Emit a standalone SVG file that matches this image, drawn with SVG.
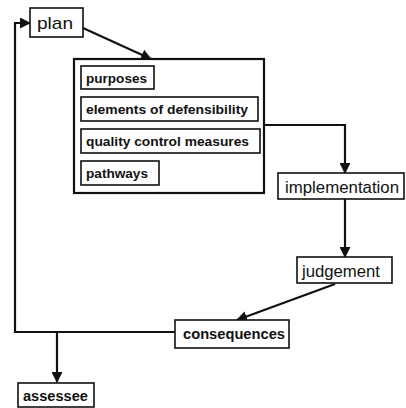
<svg xmlns="http://www.w3.org/2000/svg" width="406" height="408" viewBox="0 0 406 408">
<defs>
<marker id="ah" markerUnits="userSpaceOnUse" markerWidth="11" markerHeight="11" viewBox="0 0 11 11" refX="10" refY="5.5" orient="auto">
<path d="M0,0 L11,5.5 L0,11 Z" fill="#111"/>
</marker>
</defs>
<style>
.box{fill:#fff;stroke:#111;stroke-width:1.6}
.big{fill:#fff;stroke:#111;stroke-width:2.2}
.c{fill:none;stroke:#111;stroke-width:2.2}
text{font-family:"Liberation Sans",Arial,sans-serif;fill:#111}
.b{font-weight:bold}
</style>
<rect width="406" height="408" fill="#fff"/>
<g id="connectors">
<path class="c" d="M83,28 L151,59" marker-end="url(#ah)"/>
<path class="c" d="M264,125 H345 V173" marker-end="url(#ah)"/>
<path class="c" d="M345,199 V257" marker-end="url(#ah)"/>
<path class="c" d="M335,284 L237,320" marker-end="url(#ah)"/>
<path class="c" d="M175,332 H15 V23 H30" marker-end="url(#ah)"/>
<path class="c" d="M57,332 V382" marker-end="url(#ah)"/>
</g>
<g id="plan">
<rect class="box" x="30" y="8" width="53" height="29"/>
<text x="37" y="29" font-size="17" textLength="36" lengthAdjust="spacingAndGlyphs">plan</text>
</g>
<g id="plan-contents">
<rect class="big" x="74" y="59" width="190" height="134"/>
<g id="purposes">
<rect class="box" x="81" y="66" width="73" height="23"/>
<text class="b" x="86" y="83" font-size="13" textLength="61" lengthAdjust="spacingAndGlyphs">purposes</text>
</g>
<g id="elements">
<rect class="box" x="81" y="97" width="177" height="24"/>
<text class="b" x="86" y="114" font-size="13" textLength="162" lengthAdjust="spacingAndGlyphs">elements of defensibility</text>
</g>
<g id="quality">
<rect class="box" x="81" y="129" width="179" height="24"/>
<text class="b" x="86" y="146" font-size="13" textLength="163" lengthAdjust="spacingAndGlyphs">quality control measures</text>
</g>
<g id="pathways">
<rect class="box" x="81" y="161" width="78" height="24"/>
<text class="b" x="86" y="178" font-size="13" textLength="62" lengthAdjust="spacingAndGlyphs">pathways</text>
</g>
</g>
<g id="implementation">
<rect class="box" x="278" y="173" width="126" height="26"/>
<text x="285" y="193" font-size="16" textLength="114" lengthAdjust="spacingAndGlyphs">implementation</text>
</g>
<g id="judgement">
<rect class="box" x="297" y="257" width="95" height="26"/>
<text x="302" y="277" font-size="16" textLength="78" lengthAdjust="spacingAndGlyphs">judgement</text>
</g>
<g id="consequences">
<rect class="box" x="175" y="320" width="114" height="28"/>
<text class="b" x="183" y="339" font-size="15" textLength="102" lengthAdjust="spacingAndGlyphs">consequences</text>
</g>
<g id="assessee">
<rect class="box" x="18" y="383" width="76" height="24"/>
<text class="b" x="23" y="401" font-size="15" textLength="65" lengthAdjust="spacingAndGlyphs">assessee</text>
</g>
</svg>
